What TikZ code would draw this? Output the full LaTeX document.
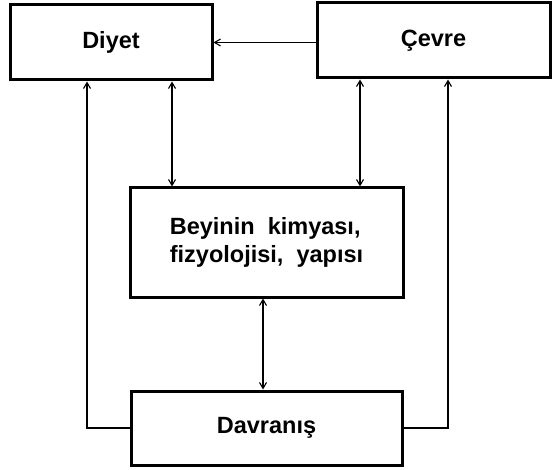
\documentclass[tikz,border=0pt]{standalone}
\usepackage{fontspec}
\setmainfont{Liberation Sans}
\usetikzlibrary{arrows.meta}
\begin{document}
\begin{tikzpicture}[x=1pt,y=-1pt,
  box/.style={draw, line width=3pt, minimum width=#1, inner sep=0pt,
    font=\fontsize{23.5}{28}\selectfont\bfseries},
  conn/.style={line width=1.1pt, -{Straight Barb[length=6pt,width=7pt]}},
  dconn/.style={line width=1.1pt, {Straight Barb[length=6pt,width=7pt]}-{Straight Barb[length=6pt,width=7pt]}}
]
\useasboundingbox (0,0) rectangle (553,470);
\node[box=202pt, minimum height=75pt] (diyet) at (111,42.5) {Diyet};
\node[box=233pt, minimum height=75pt] (cevre) at (433.5,40.5) {Çevre};
\node[box=273pt, minimum height=109pt, align=left] (beyin) at (266.5,242.5) {Beyinin\ \ kimyası,\\fizyolojisi,\ \ yapısı};
\node[box=271pt, minimum height=74pt] (davranis) at (266.5,428) {Davranış};
\coordinate (xl) at (87,0);
\coordinate (xa) at (172,0);
\coordinate (xb) at (360,0);
\coordinate (xr) at (448,0);
\coordinate (xm) at (263,0);
\draw[conn] (cevre.west |- diyet.east) -- (diyet.east);
\draw[dconn] (diyet.south -| xa) -- (beyin.north -| xa);
\draw[dconn] (cevre.south -| xb) -- (beyin.north -| xb);
\draw[dconn] (beyin.south -| xm) -- (davranis.north -| xm);
\draw[conn] (davranis.west) -| (diyet.south -| xl);
\draw[conn] (davranis.east) -| (cevre.south -| xr);
\end{tikzpicture}
\end{document}
